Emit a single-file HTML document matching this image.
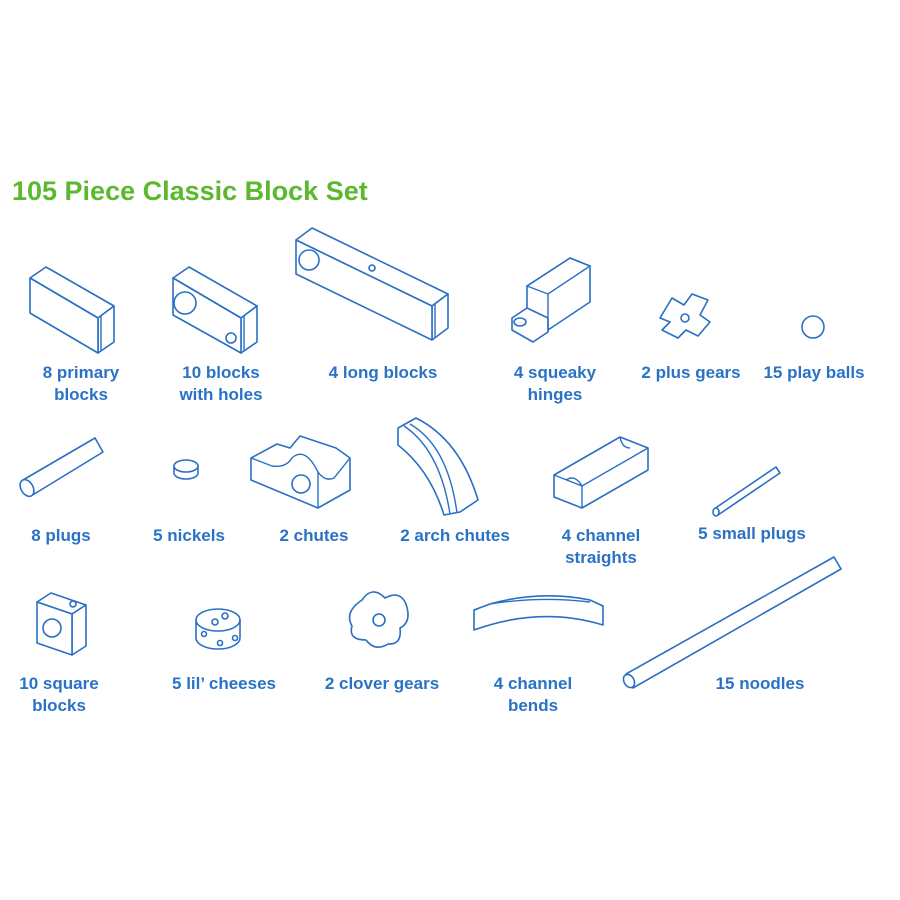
<!DOCTYPE html>
<html><head><meta charset="utf-8"><style>
html,body{margin:0;padding:0;background:#fff;}
svg{display:block}
.t{font-family:"Liberation Sans",sans-serif;font-weight:bold;font-size:17px;fill:#2a72c6;text-anchor:middle}
.ti{font-family:"Liberation Sans",sans-serif;font-weight:bold;font-size:27px;fill:#5cb82e}
.s{fill:#fff;stroke:#2a6fc4;stroke-width:1.6;stroke-linejoin:round}
.n{fill:none;stroke:#2a6fc4;stroke-width:1.4}
</style></head><body>
<svg width="900" height="900" viewBox="0 0 900 900" xmlns="http://www.w3.org/2000/svg">
<text class="ti" x="12" y="200">105 Piece Classic Block Set</text>

<!-- primary block -->
<polygon class="s" points="30,278 46,267 114,306 98,318"/>
<polygon class="s" points="98,318 114,306 114,342 98,353"/>
<polygon class="s" points="30,278 98,318 98,353 30,313"/>
<line class="n" x1="101" y1="316" x2="101" y2="351"/>
<!-- blocks with holes -->
<polygon class="s" points="173,278 189,267 257,306 241,318"/>
<polygon class="s" points="241,318 257,306 257,342 241,353"/>
<polygon class="s" points="173,278 241,318 241,353 173,315"/>
<line class="n" x1="244" y1="316" x2="244" y2="351"/>
<circle class="s" cx="185" cy="303" r="11"/>
<circle class="s" cx="231" cy="338" r="5"/>
<!-- long block -->
<polygon class="s" points="296,240 312,228 448,294 432,306"/>
<polygon class="s" points="432,306 448,294 448,328 432,340"/>
<polygon class="s" points="296,240 432,306 432,340 296,274"/>
<line class="n" x1="435" y1="304" x2="435" y2="338"/>
<circle class="s" cx="309" cy="260" r="10"/>
<circle class="s" cx="372" cy="268" r="3"/>
<!-- squeaky hinge -->
<polygon class="s" points="527,286 570,258 590,266 590,302 548,330 527,318"/>
<polygon class="s" points="512,318 527,308 548,318 548,332 533,342 512,330"/>
<polygon class="n" points="527,286 570,258 590,266 548,294"/>
<line class="n" x1="548" y1="294" x2="548" y2="330"/>
<ellipse class="s" cx="520" cy="322" rx="6" ry="4"/>
<!-- plus gear -->
<polygon class="s" points="660,318 672,298 684,305 692,294 708,300 700,315 710,322 698,336 686,330 678,338 662,330 670,322"/>
<circle class="s" cx="685" cy="318" r="4"/>
<!-- ball -->
<circle class="s" cx="813" cy="327" r="11"/>

<text class="t" x="81" y="378">8 primary</text><text class="t" x="81" y="400">blocks</text>
<text class="t" x="221" y="378">10 blocks</text><text class="t" x="221" y="400">with holes</text>
<text class="t" x="383" y="378">4 long blocks</text>
<text class="t" x="555" y="378">4 squeaky</text><text class="t" x="555" y="400">hinges</text>
<text class="t" x="691" y="378">2 plus gears</text>
<text class="t" x="814" y="378">15 play balls</text>

<!-- plug -->
<polygon class="s" points="23,480 95,438 103,452 31,496"/>
<ellipse class="s" cx="27" cy="488" rx="6" ry="9" transform="rotate(-30 27 488)"/>
<!-- nickel -->
<path class="s" d="M174,466 v7 a12,6 0 0 0 24,0 v-7 z"/>
<ellipse class="s" cx="186" cy="466" rx="12" ry="6"/>
<!-- chutes -->
<polygon class="s" points="251,458 277,444 290,448 300,436 336,448 350,458 350,490 318,508 251,480"/>
<path class="n" d="M251,458 L272,466 Q286,468 292,458 Q305,446 318,472 Q325,482 334,478 L350,458"/>
<line class="n" x1="318" y1="472" x2="318" y2="508"/>
<circle class="s" cx="301" cy="484" r="9"/>
<!-- arch chute -->
<path class="s" d="M398,428 L416,418 Q460,440 478,500 L460,512 L444,515 Q430,470 398,445 Z"/>
<path class="n" d="M404,426 Q440,450 450,514 M410,424 Q448,446 457,513"/>
<!-- channel straight -->
<polygon class="s" points="554,475 620,437 648,448 648,470 582,508 554,497"/>
<path class="n" d="M554,475 L582,486 L648,448 M566,480 Q575,474 582,486 M582,486 L582,508 M620,437 Q622,448 630,448"/>
<!-- small plug -->
<polygon class="s" points="714,509 776,467 780,473 718,515"/>
<ellipse class="s" cx="716" cy="512" rx="3" ry="4"/>

<text class="t" x="61" y="541">8 plugs</text>
<text class="t" x="189" y="541">5 nickels</text>
<text class="t" x="314" y="541">2 chutes</text>
<text class="t" x="455" y="541">2 arch chutes</text>
<text class="t" x="601" y="541">4 channel</text><text class="t" x="601" y="563">straights</text>
<text class="t" x="752" y="539">5 small plugs</text>

<!-- square block -->
<polygon class="s" points="37,602 51,593 86,605 72,614"/>
<polygon class="s" points="72,614 86,605 86,646 72,655"/>
<polygon class="s" points="37,602 72,614 72,655 37,643"/>
<circle class="s" cx="52" cy="628" r="9"/>
<circle class="s" cx="73" cy="604" r="3"/>
<!-- cheese -->
<path class="s" d="M196,620 v18 a22,11 0 0 0 44,0 v-18 z"/>
<ellipse class="s" cx="218" cy="620" rx="22" ry="11"/>
<circle class="s" cx="225" cy="616" r="3"/><circle class="s" cx="215" cy="622" r="3"/>
<circle class="s" cx="204" cy="634" r="2.5"/><circle class="s" cx="220" cy="643" r="2.5"/><circle class="s" cx="235" cy="638" r="2.5"/>
<!-- clover gear -->
<path class="s" d="M362,600 Q372,585 385,598 Q400,590 406,604 Q412,622 400,628 Q402,645 388,644 Q375,652 366,640 Q348,640 352,626 Q344,612 362,600 Z"/>
<circle class="s" cx="379" cy="620" r="6"/>
<!-- channel bend -->
<path class="s" d="M474,610 Q540,585 603,606 L603,625 Q540,606 474,630 Z"/>
<path class="s" d="M474,610 L490,604 Q540,590 590,600 L603,606"/>
<path class="n" d="M490,604 Q540,596 590,602"/>
<!-- noodle -->
<polygon class="s" points="626,674 834,557 841,569 633,688"/>
<ellipse class="s" cx="629" cy="681" rx="5" ry="7" transform="rotate(-30 629 681)"/>

<text class="t" x="59" y="689">10 square</text><text class="t" x="59" y="711">blocks</text>
<text class="t" x="224" y="689">5 lil’ cheeses</text>
<text class="t" x="382" y="689">2 clover gears</text>
<text class="t" x="533" y="689">4 channel</text><text class="t" x="533" y="711">bends</text>
<text class="t" x="760" y="689">15 noodles</text>
</svg>
</body></html>
